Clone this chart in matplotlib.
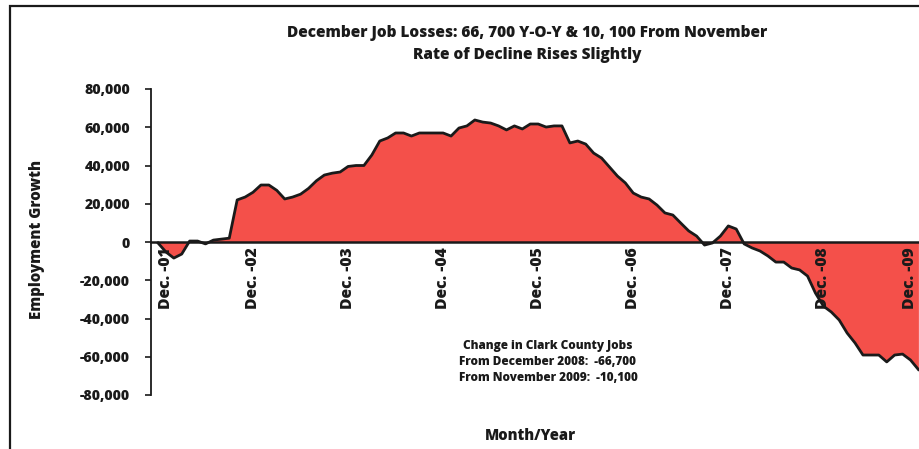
import matplotlib
matplotlib.use("Agg")
import matplotlib.pyplot as plt
from matplotlib.patches import Rectangle
import numpy as np

plt.rcParams['font.family'] = ['Open Sans', 'DejaVu Sans']
plt.rcParams['font.weight'] = 'bold'

# Monthly year-over-year employment growth, Dec 2001 .. Dec 2009
growth = [
    -500, -5200, -8400, -6300, 500, 500, -1000, 1000, 1500, 2000,
    22000, 23500, 26000, 29800, 29800, 27000, 22500, 23500, 25000, 28000,
    32000, 35000, 36000, 36600, 39500, 40000, 40000, 45500, 52800, 54400,
    57000, 57000, 55400, 57000, 57000, 57000, 57000, 55400, 59600, 60700,
    63800, 62700, 62200, 60700, 58600, 60700, 59100, 61700, 61700, 60100,
    60700, 60700, 51800, 52800, 51200, 46500, 43900, 39200, 34500, 30900,
    25600, 23500, 22500, 19300, 15200, 14100, 9900, 5800, 3100, -1600,
    -500, 3100, 8400, 6800, -1000, -3100, -4700, -7300, -10500, -10500,
    -13600, -14600, -17800, -26700, -33500, -36600, -40800, -47600, -52800, -59100,
    -59100, -59100, -62700, -59100, -58600, -61700, -66700,
]
tick_labels = ["Dec. -01", "Dec. -02", "Dec. -03", "Dec. -04", "Dec. -05",
               "Dec. -06", "Dec. -07", "Dec. -08", "Dec. -09"]
y_ticks = [-80000, -60000, -40000, -20000, 0, 20000, 40000, 60000, 80000]

title = "December Job Losses: 66, 700 Y-O-Y & 10, 100 From November\nRate of Decline Rises Slightly"
note = "Change in Clark County Jobs\nFrom December 2008:  -66,700\nFrom November 2009:  -10,100"

W, H = 920, 449
TXT = '#1a1a1a'
WT = 'extra bold'
fig = plt.figure(figsize=(W / 100, H / 100), dpi=100)
ax = fig.add_axes([151 / W, (H - 395) / H, (920 - 151) / W, (395 - 89) / H])

x = np.arange(len(growth))
fill_color = '#F4504A'
ax.fill_between(x, growth, 0, color=fill_color, linewidth=0)
ax.plot(x, growth, color=TXT, linewidth=2.0, solid_joinstyle='round')

ax.set_xlim(-0.88, 96.2)
ax.set_ylim(-80000, 80000)

ax.spines['top'].set_visible(False)
ax.spines['right'].set_visible(False)
ax.spines['bottom'].set_position(('data', 0))
ax.spines['bottom'].set_linewidth(1.8)
ax.spines['bottom'].set_color(TXT)
ax.spines['left'].set_linewidth(1.3)
ax.spines['left'].set_color(TXT)
ax.spines['bottom'].set_zorder(5)

ax.set_yticks(y_ticks)
ax.set_yticklabels([f"{v:,}" for v in y_ticks], fontsize=10.2, fontweight=WT, color=TXT)
ax.tick_params(axis='y', direction='out', length=4, width=1.2, pad=11, color=TXT)

ax.set_xticks(np.arange(0, len(growth), 12))
labels = ax.set_xticklabels(tick_labels, rotation=90, fontsize=11.3, fontweight=WT,
                            color=TXT, va='top', ha='center')
labels[0].set_horizontalalignment('left')
labels[-1].set_horizontalalignment('right')
ax.tick_params(axis='x', length=0, pad=4)

fig.text(527 / W, 1 - 44 / H, title, ha='center', va='center', fontsize=11.1,
         fontweight=WT, color=TXT, linespacing=1.55)
fig.text(37 / W, 1 - 239 / H, "Employment Growth", rotation=90, ha='center', va='center',
         fontsize=10.8, fontweight=WT, color=TXT)
fig.text(530 / W, 1 - 436 / H, "Month/Year", ha='center', va='center',
         fontsize=10.6, fontweight=WT, color=TXT)
fig.text(548 / W, 1 - 362 / H, note, ha='center', va='center', fontsize=8.45,
         fontweight=WT, color=TXT, linespacing=1.42)

fig.patches.append(Rectangle((10 / W, -0.2), 2.0, 1.2 - 6 / H, transform=fig.transFigure,
                             fill=False, edgecolor=TXT, linewidth=1.6, clip_on=False))

fig.savefig("out.png", dpi=100)
